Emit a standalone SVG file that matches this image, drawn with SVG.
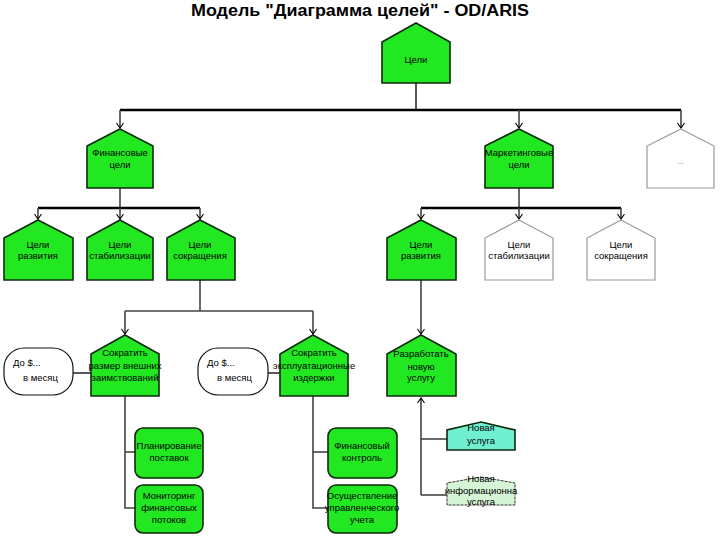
<svg xmlns="http://www.w3.org/2000/svg" width="720" height="540" viewBox="0 0 720 540">
<style>
.title{font-family:"Liberation Sans",Arial,sans-serif;font-weight:bold;font-size:16px;fill:#000}
.t{font-family:"Liberation Sans",Arial,sans-serif;font-size:9.5px;fill:#000;text-anchor:middle}
.tl{font-family:"Liberation Sans",Arial,sans-serif;font-size:9.5px;fill:#000}
.g{fill:#22e822;stroke:#0d2a0d;stroke-width:1.6}
.w{fill:#fff;stroke:#9a9a9a;stroke-width:1.2}
.aq{fill:#70f0d0;stroke:#0d2a0d;stroke-width:1.6}
.lg{fill:#d6f5d6;stroke:#333;stroke-width:1;stroke-dasharray:3 1}
.ov{fill:#fff;stroke:#111;stroke-width:1.2}
.bus{stroke:#000;stroke-width:2.6;fill:none}
.ln{stroke:#111;stroke-width:1.4;fill:none}
.ln2{stroke:#444;stroke-width:1.6;fill:none}
.arr{marker-end:url(#ah)}
</style>
<defs>
<marker id="ah" viewBox="-7 -5 9 10" refX="0" refY="0" markerWidth="9" markerHeight="10" markerUnits="userSpaceOnUse" orient="auto">
<path d="M-5,-3.5 L0,0 L-5,3.5" fill="none" stroke="#000" stroke-width="1.1"/>
</marker>
</defs>
<rect width="720" height="540" fill="#fff"/>
<text class="title" x="360" y="16" text-anchor="middle" textLength="338" lengthAdjust="spacingAndGlyphs">Модель "Диаграмма целей" - OD/ARIS</text>

<g id="connectors">
<path class="ln" d="M416,83 V110"/>
<path class="bus" d="M120,110 H681"/>
<path class="ln2 arr" d="M120,110 V128"/>
<path class="ln2 arr" d="M519,110 V128"/>
<path class="ln2 arr" d="M681,110 V128"/>
<path class="ln2" d="M120,188 V208"/>
<path class="bus" d="M38,208 H200"/>
<path class="ln2 arr" d="M38,208 V219"/>
<path class="ln2 arr" d="M120,208 V219"/>
<path class="ln2 arr" d="M200,208 V219"/>
<path class="ln2" d="M519,188 V208"/>
<path class="bus" d="M421,208 H621"/>
<path class="ln2 arr" d="M421,208 V219"/>
<path class="ln2 arr" d="M519,208 V219"/>
<path class="ln2 arr" d="M621,208 V219"/>
<path class="ln2" d="M200,280 V311"/>
<path class="ln2" d="M125,311 H313"/>
<path class="ln2 arr" d="M125,311 V334"/>
<path class="ln2 arr" d="M313,311 V334"/>
<path class="ln2 arr" d="M421,280 V334"/>
<path class="ln" d="M73,373 H91"/>
<path class="ln" d="M268,373 H280"/>
<path class="ln2" d="M125,396 V508 H135"/>
<path class="ln2" d="M125,452 H135"/>
<path class="ln2" d="M313,396 V508 H328"/>
<path class="ln2" d="M313,452 H328"/>
<path class="ln2 arr" d="M421,495 V398"/>
<path class="ln2" d="M421,439 H447"/>
<path class="ln2" d="M421,495 H447"/>
</g>

<g id="n-celi">
<path class="g" d="M416,23 L450,42 L450,83 L382,83 L382,42 Z"/>
<text class="t" x="416" y="63">Цели</text>
</g>
<g id="n-fin">
<path class="g" d="M120,129 L153,146 L153,188 L87,188 L87,146 Z"/>
<text class="t" x="120" y="156">Финансовые</text>
<text class="t" x="120" y="168">цели</text>
</g>
<g id="n-mark">
<path class="g" d="M519,129 L553,146 L553,188 L485,188 L485,146 Z"/>
<text class="t" x="519" y="156">Маркетинговые</text>
<text class="t" x="519" y="168">цели</text>
</g>
<g id="n-dots">
<path class="w" d="M681,129 L714,146 L714,188 L647,188 L647,146 Z"/>
<text class="t" x="681" y="164" style="font-size:7px;fill:#555">...</text>
</g>

<g id="n-razv1">
<path class="g" d="M38,220 L73,238 L73,280 L4,280 L4,238 Z"/>
<text class="t" x="38" y="248">Цели</text>
<text class="t" x="38" y="259">развития</text>
</g>
<g id="n-stab1">
<path class="g" d="M120,220 L153,238 L153,280 L87,280 L87,238 Z"/>
<text class="t" x="120" y="248">Цели</text>
<text class="t" x="120" y="259">стабилизации</text>
</g>
<g id="n-sokr1">
<path class="g" d="M200,220 L235,238 L235,280 L167,280 L167,238 Z"/>
<text class="t" x="200" y="248">Цели</text>
<text class="t" x="200" y="259">сокращения</text>
</g>
<g id="n-razv2">
<path class="g" d="M421,220 L456,238 L456,280 L387,280 L387,238 Z"/>
<text class="t" x="421" y="248">Цели</text>
<text class="t" x="421" y="259">развития</text>
</g>
<g id="n-stab2">
<path class="w" d="M519,220 L553,238 L553,280 L485,280 L485,238 Z"/>
<text class="t" x="519" y="248">Цели</text>
<text class="t" x="519" y="259">стабилизации</text>
</g>
<g id="n-sokr2">
<path class="w" d="M621,220 L655,238 L655,280 L587,280 L587,238 Z"/>
<text class="t" x="621" y="248">Цели</text>
<text class="t" x="621" y="259">сокращения</text>
</g>

<g id="o-1">
<rect class="ov" x="4" y="348" width="69" height="47" rx="20" ry="20"/>
<text class="tl" x="13" y="366">До $...</text>
<text class="tl" x="23" y="381">в месяц</text>
</g>
<g id="n-zaim">
<path class="g" d="M125,335 L159,354 L159,396 L91,396 L91,354 Z"/>
<text class="t" x="125" y="356">Сократить</text>
<text class="t" x="125" y="369">размер внешних</text>
<text class="t" x="125" y="381">заимствований</text>
</g>
<g id="o-2">
<rect class="ov" x="198" y="348" width="70" height="47" rx="20" ry="20"/>
<text class="tl" x="207" y="366">До $...</text>
<text class="tl" x="217" y="381">в месяц</text>
</g>
<g id="n-izd">
<path class="g" d="M313,335 L348,354 L348,396 L280,396 L280,354 Z"/>
<text class="t" x="314" y="356">Сократить</text>
<text class="t" x="314" y="369">эксплуатационные</text>
<text class="t" x="314" y="381">издержки</text>
</g>
<g id="n-usl">
<path class="g" d="M421,335 L456,354 L456,396 L387,396 L387,354 Z"/>
<text class="t" x="421" y="357">Разработать</text>
<text class="t" x="421" y="370">новую</text>
<text class="t" x="421" y="381">услугу</text>
</g>

<g id="r-plan">
<rect class="g" x="135" y="428" width="68" height="50" rx="8"/>
<text class="t" x="169" y="449">Планирование</text>
<text class="t" x="169" y="461">поставок</text>
</g>
<g id="r-monit">
<rect class="g" x="135" y="485" width="68" height="48" rx="8"/>
<text class="t" x="169" y="499">Мониторинг</text>
<text class="t" x="169" y="511">финансовых</text>
<text class="t" x="169" y="523">потоков</text>
</g>
<g id="r-fk">
<rect class="g" x="328" y="428" width="69" height="50" rx="8"/>
<text class="t" x="362" y="449">Финансовый</text>
<text class="t" x="362" y="461">контроль</text>
</g>
<g id="r-uu">
<rect class="g" x="328" y="485" width="69" height="48" rx="8"/>
<text class="t" x="362" y="499">Осуществление</text>
<text class="t" x="362" y="511">управленческого</text>
<text class="t" x="362" y="523">учета</text>
</g>

<g id="n-nu">
<path class="aq" d="M481,422 L515,430 L515,450 L447,450 L447,430 Z"/>
<text class="t" x="481" y="431">Новая</text>
<text class="t" x="481" y="444">услуга</text>
</g>
<g id="n-niu">
<path class="lg" d="M481,477 L515,483 L515,505 L447,505 L447,483 Z"/>
<text class="t" x="481" y="482">Новая</text>
<text class="t" x="481" y="494">информационна</text>
<text class="t" x="481" y="505">услуга</text>
</g>
</svg>
